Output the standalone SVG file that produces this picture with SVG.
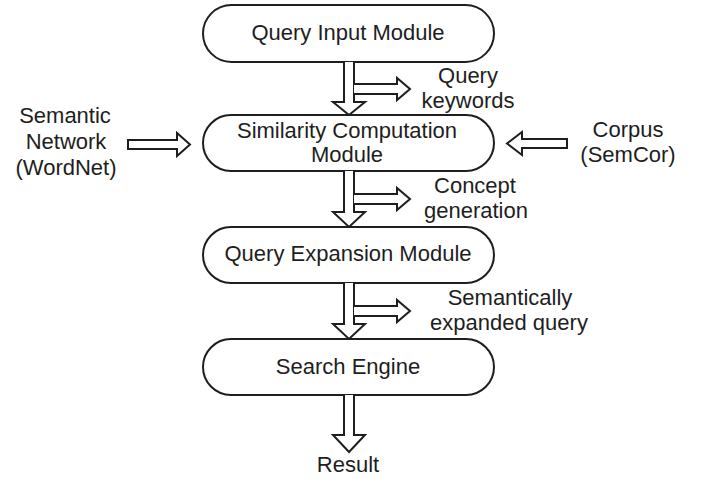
<svg xmlns="http://www.w3.org/2000/svg" width="704" height="479" viewBox="0 0 704 479">
  <style>
    .box { fill: #ffffff; stroke: #1e1e1e; stroke-width: 2; }
    .blk { fill: #ffffff; stroke: #1e1e1e; stroke-width: 2; stroke-linejoin: miter; }
    text { font-family: "Liberation Sans", Arial, sans-serif; font-size: 22px; fill: #1e1e1e; text-anchor: middle; }
  </style>
  <rect width="704" height="479" fill="#ffffff"/>

  <!-- Nodes -->
  <g id="query-input">
    <rect class="box" x="203" y="5" width="291" height="57" rx="28.5"/>
    <text x="348" y="40">Query Input Module</text>
  </g>
  <g id="similarity">
    <rect class="box" x="203" y="115" width="291" height="56" rx="28"/>
    <text x="347" y="138">Similarity Computation</text>
    <text x="347" y="162">Module</text>
  </g>
  <g id="query-expansion">
    <rect class="box" x="203" y="227" width="291" height="56" rx="28"/>
    <text x="348" y="261">Query Expansion Module</text>
  </g>
  <g id="search-engine">
    <rect class="box" x="203" y="339" width="291" height="56" rx="28"/>
    <text x="348" y="374">Search Engine</text>
  </g>

  <!-- Side labels -->
  <g id="semantic-network">
    <text x="65" y="123">Semantic</text>
    <text x="66" y="149">Network</text>
    <text x="66" y="175">(WordNet)</text>
  </g>
  <g id="corpus">
    <text x="628" y="137">Corpus</text>
    <text x="628" y="162">(SemCor)</text>
  </g>
  <g id="result">
    <text x="348" y="472">Result</text>
  </g>

  <!-- Connectors: hollow block arrows -->
  <g id="connectors">
    <!-- Query Input -> Similarity -->
    <path class="blk" d="M344,62 V102 H333 L349,115 L365,102 H354 V62"/>
    <path class="blk" d="M354,84 H397 V78 L410,89 L397,100 V94 H354"/>
    <!-- Similarity -> Query Expansion -->
    <path class="blk" d="M344,171 V212 H333 L349,227 L365,212 H354 V171"/>
    <path class="blk" d="M354,194 H397 V188 L410,199 L397,210 V204 H354"/>
    <!-- Query Expansion -> Search Engine -->
    <path class="blk" d="M344,283 V324 H333 L349,339 L365,324 H354 V283"/>
    <path class="blk" d="M354,306 H397 V300 L410,311 L397,322 V316 H354"/>
    <!-- Search Engine -> Result -->
    <path class="blk" d="M344,395 V435 H333 L349,452 L365,435 H354 V395"/>
    <!-- WordNet -> Similarity -->
    <path class="blk" d="M128,140 H177 V133 L190,144.5 L177,156 V149 H128 Z"/>
    <!-- SemCor -> Similarity -->
    <path class="blk" d="M567,139 H522 V132 L507,143.5 L522,155 V148 H567 Z"/>
  </g>

  <!-- Connector labels -->
  <g id="connector-labels">
    <text x="468" y="83">Query</text>
    <text x="468" y="108">keywords</text>
    <text x="475" y="193">Concept</text>
    <text x="476" y="218">generation</text>
    <text x="510" y="305">Semantically</text>
    <text x="509" y="330">expanded query</text>
  </g>
</svg>
